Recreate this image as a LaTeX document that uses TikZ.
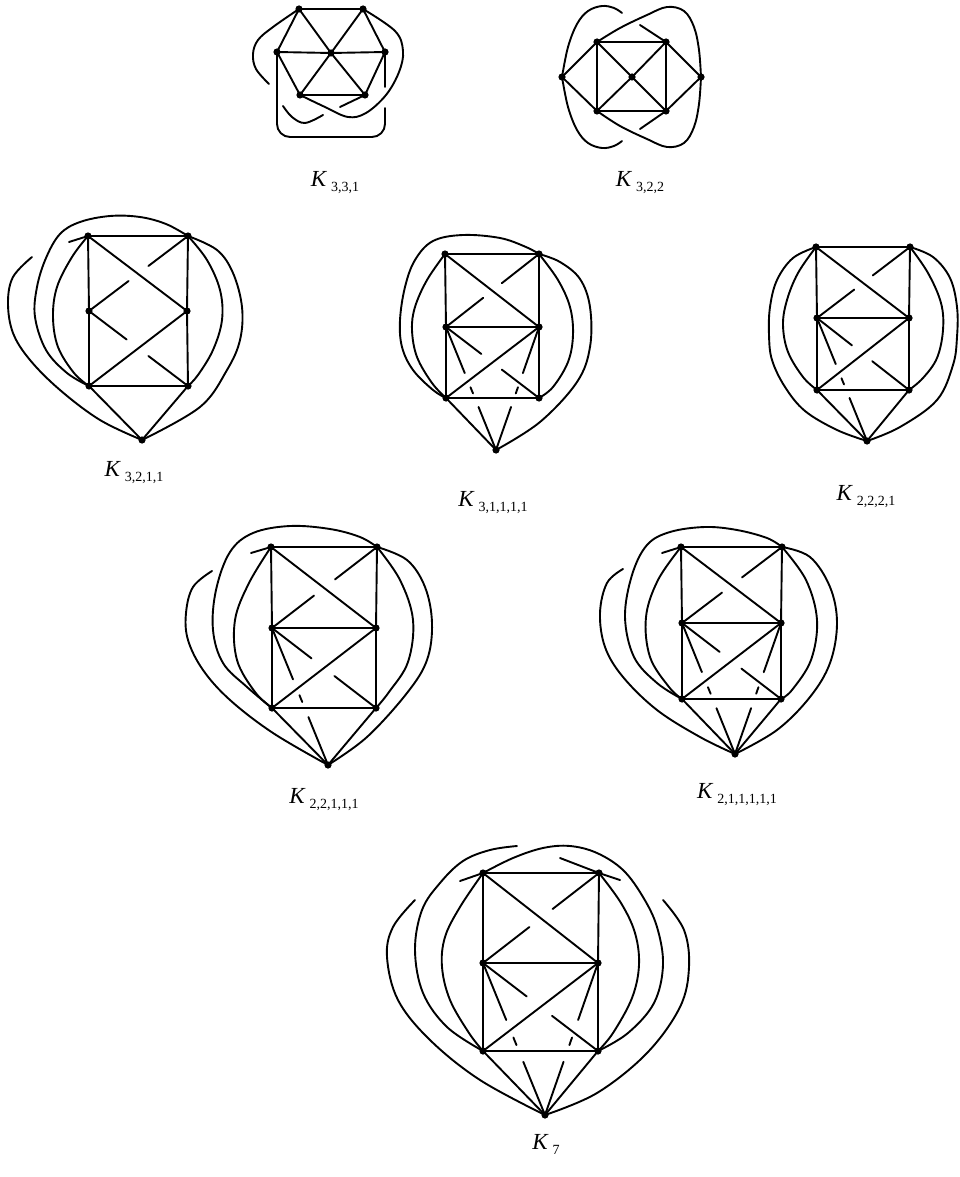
\documentclass[tikz,border=0pt]{standalone}
\usepackage{fontspec}
\setmainfont{Liberation Serif}
\usetikzlibrary{calc}
\newcommand{\brkdiag}[2]{\draw (#1) -- ($(#1)!0.4!(#2)$) ($(#1)!0.6!(#2)$) -- (#2);}
\newcommand{\brkcross}[2]{\draw (#1) -- ($(#1)!0.38!(#2)$) ($(#1)!0.6!(#2)$) -- (#2);}
\newcommand{\brkdown}[2]{\draw (#1) -- ($(#1)!0.375!(#2)$) ($(#1)!0.49!(#2)$) -- ($(#1)!0.54!(#2)$) ($(#1)!0.65!(#2)$) -- (#2);}
\newcommand{\gname}[1]{{\itshape K}\hspace{5pt}\raisebox{-5pt}{\fontsize{14}{15}\selectfont #1}}
\begin{document}
\begin{tikzpicture}[x=1pt,y=-1pt,line width=1.9pt,line cap=round,line join=round,
  vdot/.style={fill=black},
  glabel/.style={anchor=base,inner sep=0pt,font=\fontsize{23}{25}\selectfont},
  curve/.style={smooth,tension=0.6}]
\useasboundingbox (0,0) rectangle (959,1177);

% ---------- K_{3,3,1}
\coordinate (A1) at (299,9); \coordinate (A2) at (363,9);
\coordinate (A3) at (277,52); \coordinate (A4) at (331,53); \coordinate (A5) at (385,52);
\coordinate (A6) at (300,95); \coordinate (A7) at (365,95);
\draw (A1)--(A2) (A1)--(A3) (A1)--(A4) (A2)--(A4) (A2)--(A5) (A3)--(A4) (A4)--(A5)
      (A3)--(A6) (A4)--(A6) (A4)--(A7) (A5)--(A7) (A6)--(A7);
\draw plot[curve] coordinates {(A1) (273,27) (258,40) (253,54) (256,69) (269,84)};
\draw plot[curve] coordinates {(283,106) (292,117) (305,123) (323,115)};
\coordinate (A7x) at (340,107); \draw (A7x) -- (A7);
\draw plot[curve] coordinates {(A6) (325,107) (348,117) (366,113) (386,95) (399,72) (403,51) (395,31) (A2)};
\draw[rounded corners=13pt] (A3) -- (277,137) -- (385,137) -- (385,108);
\coordinate (A5x) at (385,87); \draw (A5) -- (A5x);
\node[glabel] (LA) at (335,186) {\gname{3,3,1}};

% ---------- K_{3,2,2}
\coordinate (B1) at (562,77); \coordinate (B2) at (597,42); \coordinate (B3) at (666,42);
\coordinate (B4) at (632,77); \coordinate (B5) at (597,111); \coordinate (B6) at (666,111);
\coordinate (B7) at (701,77);
\draw (B1)--(B2) (B1)--(B5) (B2)--(B3) (B2)--(B5) (B3)--(B6) (B5)--(B6)
      (B2)--(B4) (B3)--(B4) (B5)--(B4) (B6)--(B4) (B3)--(B7) (B6)--(B7);
\draw plot[curve] coordinates {(B1) (568,47) (577,24) (588,11) (602,6) (614,8) (622,13)};
\coordinate (B3x) at (640,25); \draw (B3x) -- (B3);
\draw plot[curve] coordinates {(B2) (620,28) (647,15) (667,7) (684,11) (694,27) (699,50) (B7)};
\draw plot[curve] coordinates {(B1) (568,107) (577,130) (588,143) (602,148) (614,146) (622,141)};
\coordinate (B6x) at (640,129); \draw (B6x) -- (B6);
\draw plot[curve] coordinates {(B5) (620,126) (647,139) (667,147) (684,143) (694,127) (699,104) (B7)};
\node[glabel] (LB) at (640,186) {\gname{3,2,2}};

% ---------- K_{3,2,1,1}
\coordinate (C1) at (88,236); \coordinate (C2) at (188,236); \coordinate (C3) at (89,311);
\coordinate (C4) at (187,311); \coordinate (C5) at (89,386); \coordinate (C6) at (188,386);
\coordinate (C7) at (142,440);
\draw (C1)--(C2) (C1)--(C3) (C3)--(C5) (C2)--(C4) (C4)--(C6) (C5)--(C6)
      (C1)--(C4) (C5)--(C4) (C5)--(C7) (C6)--(C7);
\brkdiag{C2}{C3} \brkcross{C3}{C6}
\draw plot[curve] coordinates {(C1) (72,257) (57,287) (53,317) (58,347) (74,373) (C5)};
\draw plot[curve] coordinates {(C2) (207,260) (220,290) (222,320) (213,350) (198,375) (C6)};
\draw plot[curve] coordinates {(C5) (67,373) (46,350) (35,317) (37,287) (46,258) (60,234) (80,222) (110,216) (140,217) (166,224) (C2)};
\draw plot[curve] coordinates {(C7) (100,420) (60,390) (30,360) (13,333) (8,303) (13,277) (32,257)};
\coordinate (C1x) at (69,242); \draw (C1x) -- (C1);
\draw plot[curve] coordinates {(C2) (217,250) (233,273) (242,307) (240,340) (227,370) (200,407) (C7)};
\node[glabel] (LC) at (134,476) {\gname{3,2,1,1}};

% ---------- K_{3,1,1,1,1}
\coordinate (D1) at (445,254); \coordinate (D2) at (539,254); \coordinate (D3) at (446,327);
\coordinate (D4) at (539,327); \coordinate (D5) at (446,398); \coordinate (D6) at (539,398);
\coordinate (D7) at (496,450);
\draw (D1)--(D2) (D1)--(D3) (D3)--(D5) (D2)--(D4) (D4)--(D6) (D5)--(D6)
      (D3)--(D4) (D1)--(D4) (D5)--(D4) (D5)--(D7);
\brkdiag{D2}{D3} \brkcross{D3}{D6} \brkdown{D3}{D7} \brkdown{D4}{D7}
\draw plot[curve] coordinates {(D1) (427,280) (415,307) (412,330) (417,357) (432,383) (D5)};
\draw plot[curve] coordinates {(D2) (558,280) (570,307) (573,335) (568,362) (553,387) (D6)};
\draw plot[curve] coordinates {(D5) (433,390) (413,370) (402,347) (400,320) (405,287) (415,260) (433,241) (463,235) (500,238) (526,247) (D2)};
\draw plot[curve] coordinates {(D2) (560,262) (580,279) (590,307) (590,347) (577,382) (540,422) (D7)};
\node[glabel] (LD) at (493,506) {\gname{3,1,1,1,1}};

% ---------- K_{2,2,2,1}
\coordinate (E1) at (816,247); \coordinate (E2) at (910,247); \coordinate (E3) at (817,318);
\coordinate (E4) at (909,318); \coordinate (E5) at (817,390); \coordinate (E6) at (909,390);
\coordinate (E7) at (867,441);
\draw (E1)--(E2) (E1)--(E3) (E3)--(E5) (E2)--(E4) (E4)--(E6) (E5)--(E6)
      (E3)--(E4) (E1)--(E4) (E5)--(E4) (E5)--(E7) (E6)--(E7);
\brkdiag{E2}{E3} \brkcross{E3}{E6} \brkdown{E3}{E7}
\draw plot[curve] coordinates {(E1) (798,273) (787,300) (783,325) (788,352) (803,377) (E5)};
\draw plot[curve] coordinates {(E2) (928,273) (941,303) (943,330) (937,358) (923,378) (E6)};
\draw plot[curve] coordinates {(E1) (793,258) (777,280) (770,307) (769,335) (772,360) (785,387) (805,411) (837,430) (E7)};
\draw plot[curve] coordinates {(E2) (933,257) (950,278) (957,307) (957,337) (953,365) (937,400) (900,427) (E7)};
\node[glabel] (LE) at (866,500) {\gname{2,2,2,1}};

% ---------- K_{2,2,1,1,1}
\coordinate (F1) at (271,547); \coordinate (F2) at (377,547); \coordinate (F3) at (272,628);
\coordinate (F4) at (376,628); \coordinate (F5) at (272,708); \coordinate (F6) at (376,708);
\coordinate (F7) at (328,765);
\draw (F1)--(F2) (F1)--(F3) (F3)--(F5) (F2)--(F4) (F4)--(F6) (F5)--(F6)
      (F3)--(F4) (F1)--(F4) (F5)--(F4) (F5)--(F7) (F6)--(F7);
\brkdiag{F2}{F3} \brkcross{F3}{F6} \brkdown{F3}{F7}
\draw plot[curve] coordinates {(F1) (249,583) (235,620) (237,660) (255,692) (F5)};
\draw plot[curve] coordinates {(F2) (400,580) (413,620) (408,662) (389,692) (F6)};
\draw plot[curve] coordinates {(F5) (247,687) (223,663) (213,630) (216,590) (230,552) (253,533) (290,526) (330,529) (360,537) (F2)};
\draw plot[curve] coordinates {(F7) (273,733) (230,700) (203,670) (188,640) (186,613) (193,587) (212,571)};
\coordinate (F1x) at (251,553); \draw (F1x) -- (F1);
\draw plot[curve] coordinates {(F2) (407,560) (425,587) (432,623) (427,660) (407,693) (367,737) (F7)};
\node[glabel] (LF) at (324,803) {\gname{2,2,1,1,1}};

% ---------- K_{2,1,1,1,1,1}
\coordinate (G1) at (681,547); \coordinate (G2) at (782,547); \coordinate (G3) at (682,623);
\coordinate (G4) at (781,623); \coordinate (G5) at (682,699); \coordinate (G6) at (781,699);
\coordinate (G7) at (735,754);
\draw (G1)--(G2) (G1)--(G3) (G3)--(G5) (G2)--(G4) (G4)--(G6) (G5)--(G6)
      (G3)--(G4) (G1)--(G4) (G5)--(G4) (G5)--(G7) (G6)--(G7);
\brkdiag{G2}{G3} \brkcross{G3}{G6} \brkdown{G3}{G7} \brkdown{G4}{G7}
\draw plot[curve] coordinates {(G1) (658,580) (646,617) (650,657) (669,687) (G5)};
\draw plot[curve] coordinates {(G2) (806,580) (817,620) (811,660) (792,690) (G6)};
\draw plot[curve] coordinates {(G5) (657,683) (634,657) (625,617) (632,575) (647,545) (670,532) (705,527) (737,530) (767,538) (G2)};
\draw plot[curve] coordinates {(G7) (700,737) (657,710) (623,677) (605,647) (600,613) (607,583) (623,569)};
\coordinate (G1x) at (662,553); \draw (G1x) -- (G1);
\draw plot[curve] coordinates {(G2) (810,557) (830,587) (837,623) (830,663) (810,697) (777,730) (G7)};
\node[glabel] (LG) at (737,798) {\gname{2,1,1,1,1,1}};

% ---------- K_7
\coordinate (H1) at (483,873); \coordinate (H2) at (599,873); \coordinate (H3) at (483,963);
\coordinate (H4) at (598,963); \coordinate (H5) at (483,1051); \coordinate (H6) at (598,1051);
\coordinate (H7) at (545,1115);
\draw (H1)--(H2) (H1)--(H3) (H3)--(H5) (H2)--(H4) (H4)--(H6) (H5)--(H6)
      (H3)--(H4) (H1)--(H4) (H5)--(H4) (H5)--(H7) (H6)--(H7);
\brkdiag{H2}{H3} \brkcross{H3}{H6} \brkdown{H3}{H7} \brkdown{H4}{H7}
\draw plot[curve] coordinates {(H1) (460,907) (445,937) (442,967) (450,1000) (469,1033) (H5)};
\draw plot[curve] coordinates {(H2) (621,903) (635,933) (639,965) (632,998) (613,1033) (H6)};
\draw plot[curve] coordinates {(H5) (447,1027) (423,993) (415,950) (422,910) (440,883) (463,861) (490,850) (517,846)};
\coordinate (H2x) at (560,858); \draw (H2x) -- (H2);
\draw plot[curve] coordinates {(H1) (513,858) (543,848) (570,846) (597,853) (623,870) (643,897) (657,927) (663,965) (654,1003) (628,1033) (H6)};
\draw plot[curve] coordinates {(H7) (480,1080) (430,1040) (398,1000) (387,957) (393,927) (415,900)};
\coordinate (H1x) at (460,881); \draw (H1x) -- (H1);
\draw plot[curve] coordinates {(H7) (597,1093) (647,1053) (680,1007) (689,967) (684,930) (663,900)};
\coordinate (H2y) at (620,880); \draw (H2y) -- (H2);
\node[glabel] (LH) at (546,1149) {\gname{7}};

% ---------- vertices
\foreach \g in {A,B,C,D,E,F,G,H}{
  \foreach \i in {1,...,7}{ \fill[vdot] (\g\i) circle (3.6pt); }
}
\end{tikzpicture}
\end{document}
